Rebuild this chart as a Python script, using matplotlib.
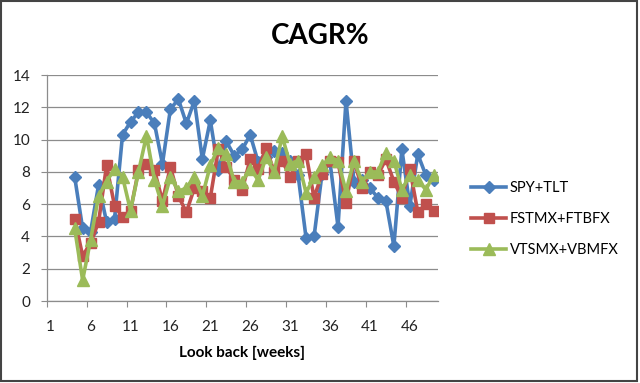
import matplotlib
matplotlib.use("Agg")
import matplotlib.pyplot as plt
from matplotlib.ticker import FixedLocator, NullFormatter, FixedFormatter
from matplotlib.patches import Rectangle

plt.rcParams['font.family'] = ['Lato', 'DejaVu Sans']

weeks = list(range(4, 50))
spy_tlt = [7.7, 4.5, 4.3, 7.2, 4.9, 5.1, 10.3, 11.1, 11.7, 11.7, 11.0, 8.5, 11.9, 12.5, 11.0, 12.4,
           8.8, 11.2, 8.1, 9.9, 9.0, 9.4, 10.3, 8.6, 8.9, 9.3, 9.2, 8.7, 7.8, 3.9, 4.0, 7.9,
           8.6, 4.6, 12.4, 7.4, 7.5, 7.0, 6.4, 6.2, 3.4, 9.4, 5.9, 9.1, 7.8, 7.5]
fstmx_ftbfx = [5.1, 2.8, 3.6, 4.9, 8.4, 5.9, 5.2, 5.6, 8.1, 8.5, 8.1, 6.2, 8.3, 6.5, 5.5, 7.0,
               6.8, 6.4, 9.4, 8.3, 7.5, 6.9, 8.8, 8.2, 9.5, 8.0, 8.7, 7.7, 8.7, 9.1, 6.4, 7.9,
               8.7, 8.6, 6.1, 8.7, 7.0, 8.0, 7.8, 8.8, 7.4, 6.4, 8.2, 5.5, 6.0, 5.6]
vtsmx_vbmfx = [4.5, 1.3, 3.8, 6.5, 7.4, 8.2, 7.7, 5.6, 8.0, 10.25, 7.5, 5.9, 7.7, 6.8, 7.0, 7.7,
               6.5, 8.4, 9.5, 9.1, 7.4, 7.4, 8.2, 7.5, 8.9, 8.0, 10.2, 8.5, 8.7, 6.7, 7.7, 8.4,
               8.9, 8.7, 6.8, 8.7, 7.4, 8.0, 8.0, 9.2, 8.7, 6.9, 7.8, 7.5, 6.9, 7.8]
series_names = ['SPY+TLT', 'FSTMX+FTBFX', 'VTSMX+VBMFX']
x_labels = ['1', '6', '11', '16', '21', '26', '31', '36', '41', '46']
y_ticks = [0, 2, 4, 6, 8, 10, 12, 14]

fig = plt.figure(figsize=(6.4, 3.83), dpi=100)
fig.patch.set_facecolor('white')
ax = fig.add_axes([0.073, 0.214, 0.611, 0.590])

styles = [
    dict(color='#4A7EBB', marker='D', markersize=7.5),
    dict(color='#C0504D', marker='s', markersize=8.5),
    dict(color='#9BBB59', marker='^', markersize=10),
]
for ys, name, st in zip([spy_tlt, fstmx_ftbfx, vtsmx_vbmfx], series_names, styles):
    ax.plot(weeks, ys, label=name, linewidth=2.6, color=st['color'], marker=st['marker'],
            markersize=st['markersize'], markerfacecolor=st['color'], markeredgecolor=st['color'])

ax.set_xlim(0.5, 49.5)
ax.set_ylim(0, 14)
ax.set_yticks(y_ticks)
ax.yaxis.grid(True, color='#8C8C8C', linewidth=0.9)
ax.set_axisbelow(True)

label_pos = [int(l) for l in x_labels]
ax.xaxis.set_major_locator(FixedLocator([p - 0.5 for p in label_pos]))
ax.xaxis.set_major_formatter(NullFormatter())
ax.xaxis.set_minor_locator(FixedLocator(label_pos))
ax.xaxis.set_minor_formatter(FixedFormatter(x_labels))
ax.tick_params(axis='x', which='major', length=4, color='#8C8C8C', direction='out')
ax.tick_params(axis='x', which='minor', length=0, pad=14, labelsize=11, labelcolor='#222222')
ax.tick_params(axis='y', length=4, color='#8C8C8C', labelsize=11, pad=8, labelcolor='#222222')

for side in ['top', 'right']:
    ax.spines[side].set_visible(False)
for side in ['left', 'bottom']:
    ax.spines[side].set_color('#8C8C8C')
    ax.spines[side].set_linewidth(0.9)

ax.set_xlabel('Look back [weeks]', fontsize=11, fontweight='bold', labelpad=8)
fig.text(0.5, 0.905, 'CAGR%', ha='center', va='center', fontsize=20, fontweight='bold')

handles, labels = ax.get_legend_handles_labels()
for h in handles:
    h.set_markersize(h.get_markersize() * 0.85)
fig.legend(handles, labels, loc='upper left', bbox_to_anchor=(0.716, 0.561), frameon=False,
           fontsize=10.5, labelspacing=1.15, handlelength=2.4, handletextpad=0.25)

# outer chart border
fig.patches.append(Rectangle((0.002, 0.004), 0.994, 0.994, transform=fig.transFigure,
                             fill=False, edgecolor='#444444', linewidth=1.5))

fig.savefig('out.png', dpi=100)
